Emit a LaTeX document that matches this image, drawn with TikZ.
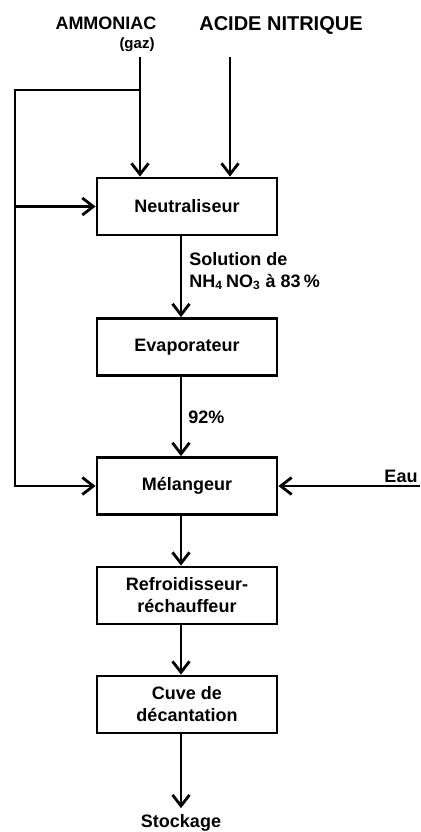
\documentclass[tikz,border=0pt]{standalone}
\usepackage{fontspec}
\setmainfont{Liberation Sans}
\usetikzlibrary{arrows.meta}
\tikzset{
  bloc/.style={draw,line width=1.4pt,minimum width=90pt,minimum height=28.5pt,
    inner sep=1pt,align=center,font=\bfseries\fontsize{9}{11}\selectfont},
  flux/.style={line width=1.4pt},
  etiq/.style={font=\bfseries\fontsize{9}{11}\selectfont,inner sep=0pt},
}
\begin{document}
\begin{tikzpicture}[x=0.5pt,y=-0.5pt,>={Straight Barb[length=5.5pt,width=8.5pt]}]
  \useasboundingbox (0,0) rectangle (420,832);
  % entrees
  \node[etiq] (ammoniac) at (106,23) {AMMONIAC};
  \node[etiq,font=\bfseries\fontsize{7.5}{9}\selectfont] (gaz) at (137,45) {(gaz)};
  \node[etiq,font=\bfseries\fontsize{10}{12}\selectfont] (acide) at (281,25) {ACIDE NITRIQUE};
  \coordinate (ammin) at (140,57);
  \coordinate (acidein) at (230,57);
  \coordinate (branche) at (140,90);
  \coordinate (gauche) at (15,90);
  \coordinate (eauin) at (420,486);
  % appareils
  \node[bloc] (neut) at (187,206.5) {Neutraliseur};
  \node[bloc] (evap) at (187,347) {Evaporateur};
  \node[bloc] (mel) at (187,486) {Mélangeur};
  \node[bloc] (refr) at (187,595.5) {Refroidisseur-\\réchauffeur};
  \node[bloc] (cuve) at (187,704.5) {Cuve de\\décantation};
  \node[etiq,inner sep=3pt] (stock) at (181,823) {Stockage};
  \node[etiq,anchor=base] (eau) at (401,482) {Eau};
  \node[etiq,anchor=north west,align=left] (solution) at (189,252)
    {Solution de\\NH\textsubscript{4}\,NO\textsubscript{3} à 83\,\%};
  \node[etiq,anchor=west] (titre) at (188,417) {92\%};
  % circuits
  \draw[flux,->] (ammin) -- (neut.north -| ammin);
  \draw[flux,->] (acidein) -- (neut.north -| acidein);
  \draw[flux,->] (branche) -- (gauche) -- (gauche |- mel) -- (mel.west);
  \draw[flux,->] (gauche |- neut) -- (neut.west);
  \draw[flux,->] (eauin) -- (mel.east);
  \draw[flux,->] (neut.south -| stock) -- (evap.north -| stock);
  \draw[flux,->] (evap.south -| stock) -- (mel.north -| stock);
  \draw[flux,->] (mel.south -| stock) -- (refr.north -| stock);
  \draw[flux,->] (refr.south -| stock) -- (cuve.north -| stock);
  \draw[flux,->] (cuve.south -| stock) -- (stock.north);
\end{tikzpicture}
\end{document}
